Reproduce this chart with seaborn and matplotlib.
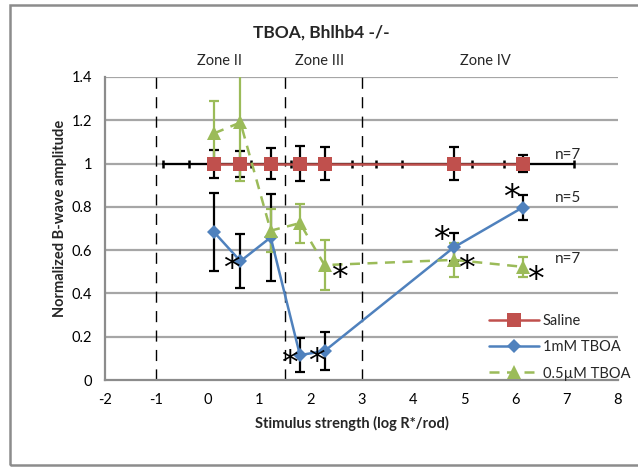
import matplotlib
matplotlib.use("Agg")
import matplotlib.pyplot as plt
from matplotlib.lines import Line2D
from matplotlib.patches import Rectangle
import seaborn as sns
import pandas as pd

# Stimulus strengths (log R*/rod)
x_vals = [0.13, 0.64, 1.23, 1.80, 2.28, 4.80, 6.14]

saline = [1.0, 1.0, 1.0, 1.0, 1.0, 1.0, 1.0]
saline_err = [0.065, 0.06, 0.07, 0.08, 0.075, 0.075, 0.04]

tboa_1mm = [0.682, 0.549, 0.659, 0.115, 0.134, 0.613, 0.797]
tboa_1mm_err = [0.18, 0.125, 0.20, 0.08, 0.09, 0.065, 0.06]

tboa_05um = [1.14, 1.19, 0.69, 0.725, 0.531, 0.555, 0.523]
tboa_05um_err = [0.15, 0.27, 0.10, 0.09, 0.115, 0.08, 0.046]

# Control baseline spanning the full stimulus range
base_x = [-0.87, -0.37, 0.85, 1.62, 2.82, 3.28, 3.79, 5.15, 5.78, 7.15]
base_y = [1.0] * len(base_x)

# Zone boundaries and labels
zone_bounds = [-1, 1.5, 3]
zone_labels = ["Zone II", "Zone III", "Zone IV"]
zone_label_x = [0.23, 2.19, 5.42]

# Significance markers (x, y)
star_x = [0.46, 1.60, 2.12, 2.57, 4.56, 5.05, 6.38, 5.92]
star_y = [0.51, 0.07, 0.08, 0.47, 0.646, 0.51, 0.46, 0.84]

# Group sizes
n_labels = ["n=7", "n=5", "n=7"]
n_y = [1.04, 0.84, 0.56]

y_ticks = [0, 0.2, 0.4, 0.6, 0.8, 1.0, 1.2, 1.4]
y_tick_labels = ["0", "0.2", "0.4", "0.6", "0.8", "1", "1.2", "1.4"]
x_ticks = [-2, -1, 0, 1, 2, 3, 4, 5, 6, 7, 8]

RED = "#C0504D"
BLUE = "#4F81BD"
GREEN = "#9BBB59"
GRID = "#A6A6A6"
AXIS = "#8C8C8C"

sns.set_theme(style="white")
plt.rcParams["font.family"] = ["Lato", "DejaVu Sans"]

fig = plt.figure(figsize=(6.38, 4.68), dpi=100)
ax = fig.add_axes([105 / 638, 88 / 468, 513 / 638, 303 / 468])

df = pd.DataFrame({
    "x": x_vals * 3,
    "y": saline + tboa_1mm + tboa_05um,
    "series": ["Saline"] * 7 + ["1mM TBOA"] * 7 + ["0.5µM TBOA"] * 7,
})

# Horizontal grid
for yt in y_ticks[1:]:
    ax.axhline(yt, color=GRID, lw=1.6, zorder=0)

# Zone boundaries
for xb in zone_bounds:
    ax.axvline(xb, color="black", lw=1.0, ls=(0, (8, 6)), zorder=1)

# Baseline with small tick marks
ax.plot(base_x, base_y, color="black", lw=1.6, marker="|", markersize=6,
        markeredgewidth=1.8, markeredgecolor="black", zorder=2)

# Error bars
ax.errorbar(x_vals, saline, yerr=saline_err, fmt="none", ecolor="black",
            elinewidth=1.6, capsize=3.5, capthick=1.6, zorder=3)
ax.errorbar(x_vals, tboa_1mm, yerr=tboa_1mm_err, fmt="none", ecolor="black",
            elinewidth=1.6, capsize=3.5, capthick=1.6, zorder=3)
ax.errorbar(x_vals, tboa_05um, yerr=tboa_05um_err, fmt="none", ecolor=GREEN,
            elinewidth=1.6, capsize=3.5, capthick=1.6, zorder=3)

styles = {
    "Saline": dict(color=RED, marker="s", markersize=10, ls="-"),
    "1mM TBOA": dict(color=BLUE, marker="D", markersize=7, ls="-"),
    "0.5µM TBOA": dict(color=GREEN, marker="^", markersize=10, ls=(0, (4, 3))),
}
for name, st in styles.items():
    sub = df[df["series"] == name]
    sns.lineplot(data=sub, x="x", y="y", ax=ax, color=st["color"], lw=1.8,
                 marker=st["marker"], markersize=st["markersize"],
                 markeredgewidth=0, zorder=4, legend=False, sort=False)
    ax.lines[-1].set_linestyle(st["ls"])

# Significance asterisks
for sx, sy in zip(star_x, star_y):
    ax.text(sx, sy, "*", fontsize=24, ha="center", va="center",
            color="black", zorder=6, family="DejaVu Sans")

for lab, ny in zip(n_labels, n_y):
    ax.text(7.02, ny, lab, fontsize=11, ha="center", va="center", zorder=6)

for lab, zx in zip(zone_labels, zone_label_x):
    ax.text(zx, 1.475, lab, fontsize=10.5, ha="center", va="center",
            clip_on=False)

ax.set_xlim(-2, 8)
ax.set_ylim(0, 1.4)
ax.set_xticks(x_ticks)
ax.set_xticklabels([str(t) for t in x_ticks])
ax.set_yticks(y_ticks)
ax.set_yticklabels(y_tick_labels)
ax.set_xlabel("")
ax.set_ylabel("")
ax.tick_params(axis="both", direction="inout", length=8, width=1.2,
               color=AXIS, labelsize=10.5, labelcolor="black")
ax.tick_params(axis="x", pad=5)
ax.tick_params(axis="y", pad=5)
sns.despine(ax=ax, top=True, right=True)
for s in ["left", "bottom"]:
    ax.spines[s].set_color(AXIS)
    ax.spines[s].set_linewidth(1.6)
ax.spines["bottom"].set_zorder(5)

handles = [
    Line2D([], [], color=RED, marker="s", markersize=10, lw=1.8,
           markeredgewidth=0),
    Line2D([], [], color=BLUE, marker="D", markersize=7, lw=1.8,
           markeredgewidth=0),
    Line2D([], [], color=GREEN, marker="^", markersize=10, lw=1.8,
           ls=(0, (4, 3)), markeredgewidth=0),
]
leg = ax.legend(handles, ["Saline", "1mM TBOA", "0.5µM TBOA"],
                loc="lower right", bbox_to_anchor=(1.05, -0.045),
                frameon=False, fontsize=10.5, handlelength=3.4,
                labelspacing=0.85, handletextpad=0.3)

fig.text(321 / 638, 1 - 33 / 468, "TBOA, Bhlhb4 -/-", fontsize=12.5,
         fontweight="bold", ha="center", va="center")
fig.text(352 / 638, 1 - 423 / 468, "Stimulus strength (log R*/rod)",
         fontsize=10.5, fontweight="bold", ha="center", va="center")
fig.text(60 / 638, 1 - 218 / 468, "Normalized B-wave amplitude",
         fontsize=10.5, fontweight="bold", ha="center", va="center",
         rotation=90)

fig.patches.append(Rectangle((10 / 638, 3 / 468), 1.0, 460 / 468,
                             transform=fig.transFigure, fill=False,
                             edgecolor="#8C8C8C", lw=1.8))

fig.savefig("out.png", dpi=100)
